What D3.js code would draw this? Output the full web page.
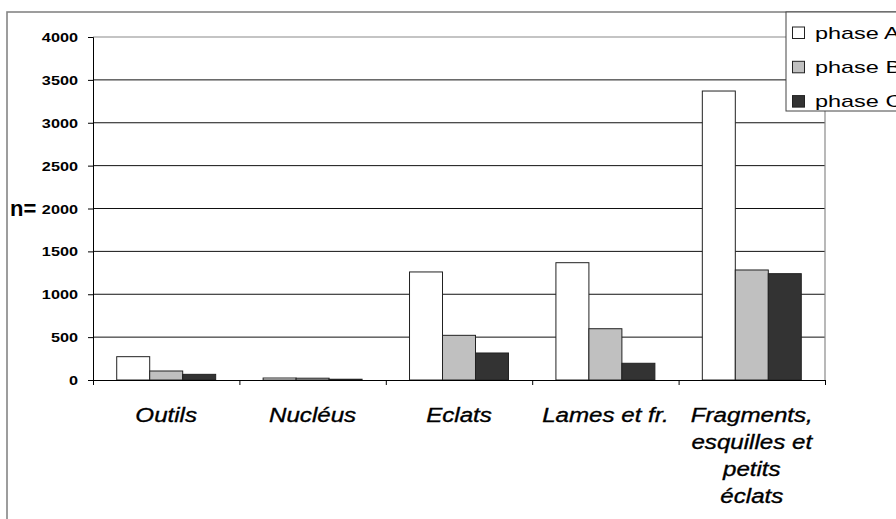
<!DOCTYPE html>
<html>
<head>
<meta charset="utf-8">
<script src="https://cdn.jsdelivr.net/npm/d3@7"></script>
<style>
  body { margin: 0; background: #fff; }
  svg { display: block; font-family: "Liberation Sans", Arial, sans-serif; }
</style>
</head>
<body>
<div id="chart"></div>
<script>
// data
const categories = ['Outils', 'Nucléus', 'Eclats', 'Lames et fr.', 'Fragments'];
const categoryLines = [
  ['Outils'],
  ['Nucléus'],
  ['Eclats'],
  ['Lames et fr.'],
  ['Fragments,', 'esquilles et', 'petits', 'éclats']
];
const seriesNames = ['phase A', 'phase B', 'phase C'];
const phaseA = [272, 23, 1260, 1368, 3370];
const phaseB = [105, 21, 521, 598, 1283];
const phaseC = [66, 9, 315, 195, 1240];
const yTicks = [0, 500, 1000, 1500, 2000, 2500, 3000, 3500, 4000];
const colors = ['#ffffff', '#c0c0c0', '#333333'];

const W = 896, H = 519;
const plot = {left: 93, right: 825, top: 37, bottom: 380};

const svg = d3.select('#chart').append('svg')
  .attr('width', W).attr('height', H);

// outer chart frame (runs off the page right / bottom)
svg.append('rect')
  .attr('x', 7).attr('y', 12)
  .attr('width', 1000).attr('height', 600)
  .attr('fill', '#fff')
  .attr('stroke', '#858585')
  .attr('stroke-width', 1.6);

const x0 = d3.scaleBand()
  .domain(categories)
  .range([plot.left, plot.right])
  .paddingInner(0.324)
  .paddingOuter(0.162);

const x1 = d3.scaleBand()
  .domain(seriesNames)
  .range([0, x0.bandwidth()]);

const y = d3.scaleLinear()
  .domain([0, 4000])
  .range([plot.bottom, plot.top]);

// gridlines
svg.append('g')
  .selectAll('line')
  .data(yTicks.filter(d => d > 0 && d < 4000))
  .join('line')
  .attr('x1', plot.left).attr('x2', plot.right)
  .attr('y1', d => y(d)).attr('y2', d => y(d))
  .attr('stroke', '#111').attr('stroke-width', 1);

// plot area border (top + right) in grey
svg.append('path')
  .attr('d', `M${plot.left},${plot.top}H${plot.right}V${plot.bottom}`)
  .attr('fill', 'none')
  .attr('stroke', '#8a8a8a').attr('stroke-width', 1.2);

// bars
const table = categories.map((c, i) => ({
  cat: c,
  values: [phaseA[i], phaseB[i], phaseC[i]].map((v, j) => ({key: seriesNames[j], v, color: colors[j]}))
}));

const groups = svg.append('g')
  .selectAll('g')
  .data(table)
  .join('g')
  .attr('transform', d => `translate(${x0(d.cat)},0)`);

groups.selectAll('rect')
  .data(d => d.values)
  .join('rect')
  .attr('x', d => x1(d.key))
  .attr('y', d => y(d.v))
  .attr('width', x1.bandwidth())
  .attr('height', d => y(0) - y(d.v))
  .attr('fill', d => d.color)
  .attr('stroke', '#222')
  .attr('stroke-width', 1);

// y axis
const yAxis = svg.append('g')
  .attr('transform', `translate(${plot.left},0)`)
  .call(d3.axisLeft(y).tickValues(yTicks).tickSize(5).tickFormat(d3.format('d')));
yAxis.select('.domain').attr('stroke', '#000');
yAxis.selectAll('.tick line').attr('stroke', '#000');
yAxis.selectAll('.tick text')
  .attr('x', 0)
  .attr('dy', '0.36em')
  .attr('transform', 'translate(-15,0) scale(1.3,1)')
  .attr('font-family', '"Liberation Sans", Arial, sans-serif')
  .attr('font-size', 12.5)
  .attr('font-weight', 'bold')
  .attr('fill', '#000');

// x axis with ticks at the category boundaries
const xIdx = d3.scaleLinear().domain([0, categories.length]).range([plot.left, plot.right]);
const xAxis = svg.append('g')
  .attr('transform', `translate(0,${plot.bottom})`)
  .call(d3.axisBottom(xIdx).tickValues(d3.range(categories.length + 1)).tickSize(5).tickFormat(''));
xAxis.select('.domain').attr('stroke', '#000');
xAxis.selectAll('.tick line').attr('stroke', '#000');

// category labels
const catLabels = svg.append('g')
  .selectAll('text')
  .data(categories)
  .join('text')
  .attr('text-anchor', 'middle')
  .attr('font-size', 21)
  .attr('font-style', 'italic')
  .attr('fill', '#000')
  .attr('stroke', '#000')
  .attr('stroke-width', 0.35)
  .attr('transform', d => `translate(${x0(d) + x0.bandwidth() / 2},422) scale(1.15,1)`);

catLabels.selectAll('tspan')
  .data((d, i) => categoryLines[i])
  .join('tspan')
  .attr('x', 0)
  .attr('y', (d, i) => i * 27)
  .text(d => d);

// y title
svg.append('text')
  .attr('x', 10).attr('y', 216)
  .attr('font-size', 22)
  .attr('font-weight', 'bold')
  .text('n=');

// legend
const legend = svg.append('g');
legend.append('rect')
  .attr('x', 786).attr('y', 12)
  .attr('width', 200).attr('height', 99)
  .attr('fill', '#fff')
  .attr('stroke', '#444').attr('stroke-width', 1);

const items = legend.selectAll('g.item')
  .data(seriesNames)
  .join('g')
  .attr('class', 'item')
  .attr('transform', (d, i) => `translate(792,${26.5 + i * 34.3})`);

items.append('rect')
  .attr('x', 0.5).attr('y', 0.5)
  .attr('width', 12).attr('height', 11.5)
  .attr('fill', (d, i) => colors[i])
  .attr('stroke', '#222');

items.append('text')
  .attr('transform', 'translate(23,12) scale(1.38,1)')
  .attr('font-size', 17)
  .attr('fill', '#000')
  .text(d => d);
</script>
</body>
</html>
